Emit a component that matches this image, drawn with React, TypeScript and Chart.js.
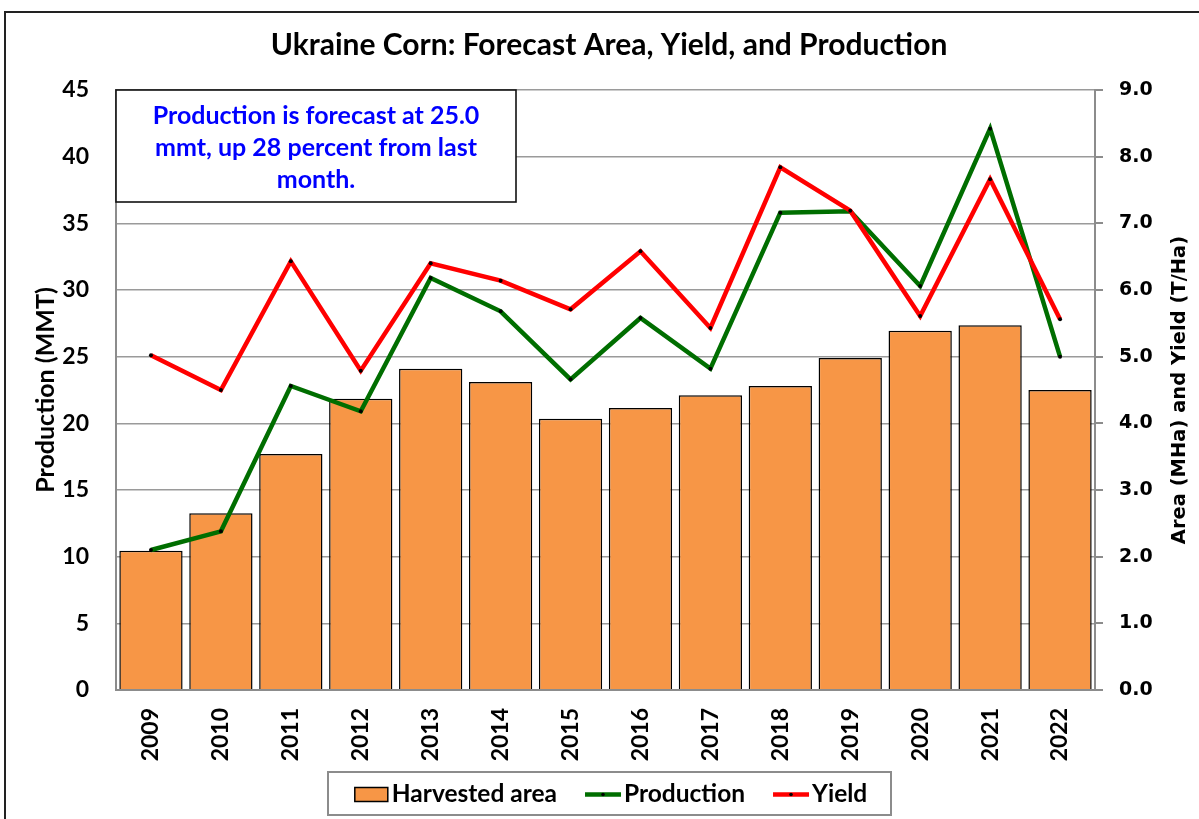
import React, { useEffect, useRef } from "react";
import { Chart, registerables } from "chart.js";

Chart.register(...registerables);

const years = ["2009", "2010", "2011", "2012", "2013", "2014", "2015", "2016", "2017", "2018", "2019", "2020", "2021", "2022"];
const harvestedArea = [2.09, 2.65, 3.54, 4.37, 4.82, 4.62, 4.07, 4.23, 4.42, 4.56, 4.98, 5.39, 5.47, 4.5];
const production = [10.5, 11.9, 22.8, 20.9, 30.9, 28.4, 23.3, 27.9, 24.1, 35.8, 35.9, 30.3, 42.1, 25.0];
const yieldValues = [5.02, 4.5, 6.43, 4.79, 6.4, 6.14, 5.71, 6.58, 5.43, 7.84, 7.19, 5.61, 7.66, 5.56];

const TITLE = "Ukraine Corn: Forecast Area, Yield, and Production";
const NOTE_LINES = ["Production is forecast at 25.0", "mmt, up 28 percent from last", "month."];
const LEFT_TITLE = "Production (MMT)";
const RIGHT_TITLE = "Area (MHa) and Yield (T/Ha)";

const SANS = "Lato, 'Open Sans', sans-serif";
const DV = "'DejaVu Sans', sans-serif";
const W = "bold";

const ORANGE = "#F79646";
const GREEN = "#006e00";
const RED = "#ff0000";

const decorations = {
  id: "decorations",
  afterDatasetsDraw(chart: any) {
    const ctx = chart.ctx;
    const area = chart.chartArea;
    const bx = area.left;
    const by = chart.scales.y.getPixelForValue(45);
    const bw = 400;
    const bh = 112;
    ctx.save();
    ctx.fillStyle = "#fff";
    ctx.fillRect(bx, by, bw, bh);
    ctx.strokeStyle = "#111";
    ctx.lineWidth = 1.6;
    ctx.strokeRect(bx, by, bw, bh);
    ctx.fillStyle = "#0000ff";
    ctx.font = `${W} 25px ${SANS}`;
    ctx.textAlign = "center";
    ctx.textBaseline = "middle";
    NOTE_LINES.forEach((t, i) => ctx.fillText(t, bx + bw / 2, by + 26 + i * 32));
    ctx.restore();
  },
  afterDraw(chart: any) {
    const ctx = chart.ctx;
    const area = chart.chartArea;
    const midY = (area.top + area.bottom) / 2;
    ctx.save();
    ctx.fillStyle = "#000";
    ctx.textAlign = "center";
    ctx.textBaseline = "middle";
    ctx.font = `${W} 30px ${SANS}`;
    ctx.fillText(TITLE, 609, 45);

    ctx.save();
    ctx.translate(46, midY);
    ctx.rotate(-Math.PI / 2);
    ctx.font = `${W} 25px ${SANS}`;
    ctx.fillText(LEFT_TITLE, 0, 0);
    ctx.restore();

    ctx.save();
    ctx.translate(1180, midY);
    ctx.rotate(-Math.PI / 2);
    ctx.font = `bold 19.5px ${DV}`;
    ctx.fillText(RIGHT_TITLE, 0, 0);
    ctx.restore();

    // legend
    const lx = 328, ly = 772, lw = 563, lh = 43;
    ctx.strokeStyle = "#8c8c8c";
    ctx.lineWidth = 2;
    ctx.strokeRect(lx, ly, lw, lh);
    ctx.font = `${W} 24.5px ${SANS}`;
    ctx.textAlign = "left";
    const cy = ly + lh / 2 + 1;
    const ds = chart.data.datasets;
    const items = ds.map((d: any) => ({
      label: d.label,
      type: d.type,
      color: d.type === "bar" ? d.backgroundColor : d.borderColor,
      sym: d.type === "bar" ? 33 : 36,
      gap: d.type === "bar" ? 4 : 3,
      tw: ctx.measureText(d.label).width,
    }));
    const itemGap = 28;
    let total = 0;
    items.forEach((it: any, i: number) => {
      total += it.sym + it.gap + it.tw + (i < items.length - 1 ? itemGap : 0);
    });
    let x = 611 - total / 2;
    items.forEach((it: any) => {
      if (it.type === "bar") {
        ctx.fillStyle = it.color;
        ctx.fillRect(x, cy - 7, it.sym, 14);
        ctx.strokeStyle = "#000";
        ctx.lineWidth = 1.5;
        ctx.strokeRect(x, cy - 7, it.sym, 14);
      } else {
        ctx.strokeStyle = it.color;
        ctx.lineWidth = 4.5;
        ctx.beginPath();
        ctx.moveTo(x, cy);
        ctx.lineTo(x + it.sym, cy);
        ctx.stroke();
        ctx.fillStyle = "#000";
        ctx.beginPath();
        ctx.arc(x + it.sym / 2, cy, 1.8, 0, Math.PI * 2);
        ctx.fill();
      }
      x += it.sym + it.gap;
      ctx.fillStyle = "#000";
      ctx.fillText(it.label, x, cy);
      x += it.tw + itemGap;
    });
    ctx.restore();
  },
};

export default function App() {
  const canvasRef = useRef<HTMLCanvasElement | null>(null);

  useEffect(() => {
    let chart: Chart | null = null;
    let cancelled = false;
    const make = () => {
      if (cancelled || !canvasRef.current) return;
      chart = new Chart(canvasRef.current, {
        type: "bar",
        data: {
          labels: years,
          datasets: [
            {
              type: "bar",
              label: "Harvested area",
              data: harvestedArea,
              yAxisID: "y1",
              backgroundColor: ORANGE,
              borderColor: "#000",
              borderWidth: 1.5,
              barPercentage: 0.905,
              categoryPercentage: 1.0,
              order: 3,
            } as any,
            {
              type: "line",
              label: "Production",
              data: production,
              yAxisID: "y",
              borderColor: GREEN,
              backgroundColor: GREEN,
              borderWidth: 4.5,
              pointRadius: 2,
              pointBackgroundColor: "#000",
              pointBorderWidth: 0,
              tension: 0,
              order: 2,
            } as any,
            {
              type: "line",
              label: "Yield",
              data: yieldValues,
              yAxisID: "y1",
              borderColor: RED,
              backgroundColor: RED,
              borderWidth: 4.5,
              pointRadius: 2,
              pointBackgroundColor: "#000",
              pointBorderWidth: 0,
              tension: 0,
              order: 1,
            } as any,
          ],
        },
        options: {
          responsive: false,
          animation: false,
          layout: { padding: { top: 90, left: 0, right: 0, bottom: 0 } },
          plugins: { legend: { display: false }, title: { display: false }, tooltip: { enabled: false } },
          scales: {
            x: {
              grid: { display: false, drawTicks: false },
              border: { display: true, color: "#8c8c8c", width: 2 },
              ticks: {
                autoSkip: false,
                minRotation: 90,
                maxRotation: 90,
                padding: 18,
                color: "#000",
                font: { family: SANS, size: 23, weight: W },
              },
              afterFit: (s: any) => {
                s.height = 129;
              },
            },
            y: {
              position: "left",
              min: 0,
              max: 45,
              ticks: { stepSize: 5, padding: 27, color: "#000", font: { family: SANS, size: 23, weight: W } },
              grid: { color: "#9a9a9a", lineWidth: 1.5, drawTicks: false },
              border: { color: "#8c8c8c", width: 2 },
              afterFit: (s: any) => {
                s.width = 116;
              },
            },
            y1: {
              position: "right",
              min: 0,
              max: 9,
              ticks: {
                stepSize: 1,
                padding: 16,
                color: "#000",
                font: { family: DV, size: 19, weight: "bold" },
                callback: (v: any) => Number(v).toFixed(1),
              },
              grid: { drawOnChartArea: false, drawTicks: true, tickLength: 8, color: "#8c8c8c", lineWidth: 2 },
              border: { color: "#8c8c8c", width: 2 },
              afterFit: (s: any) => {
                s.width = 104;
              },
            },
          },
        } as any,
        plugins: [decorations],
      });
    };
    const fontsApi: any = (document as any).fonts;
    if (fontsApi && fontsApi.load) {
      Promise.all([
        fontsApi.load(`bold 22px Lato`),
        fontsApi.load(`bold 19px "DejaVu Sans"`),
      ])
        .catch(() => null)
        .then(make);
    } else {
      make();
    }
    return () => {
      cancelled = true;
      if (chart) chart.destroy();
    };
  }, []);

  return (
    <div style={{ position: "absolute", left: 0, top: 0, width: 1199, height: 819, background: "#fff", overflow: "hidden" }}>
      <div
        style={{
          position: "absolute",
          left: 4,
          top: 11,
          width: 1300,
          height: 900,
          borderLeft: "2px solid #222",
          borderTop: "2px solid #222",
          boxSizing: "border-box",
        }}
      />
      <canvas ref={canvasRef} width={1199} height={819} style={{ position: "absolute", left: 0, top: 0, width: 1199, height: 819 }} />
    </div>
  );
}
